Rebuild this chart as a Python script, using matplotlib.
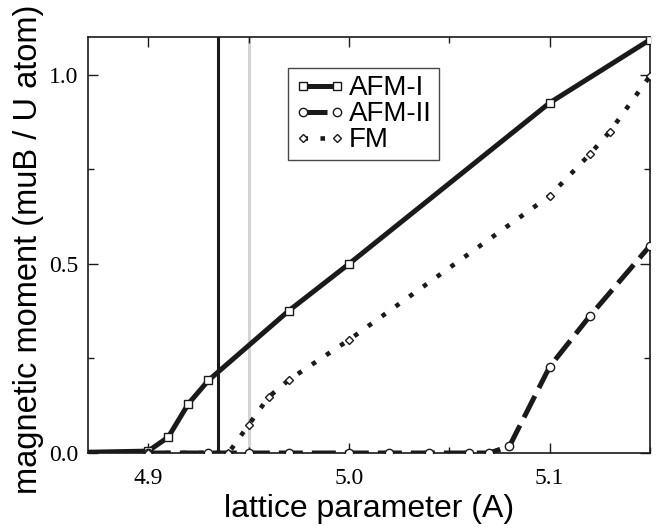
import numpy as np
import matplotlib
matplotlib.use("Agg")
import matplotlib.pyplot as plt
from matplotlib.ticker import MultipleLocator

# magnetic moment vs lattice parameter for three magnetic orderings
afm1_a = [4.85, 4.90, 4.91, 4.92, 4.93, 4.97, 5.00, 5.10, 5.15]
afm1_m = [0.0, 0.005, 0.042, 0.130, 0.192, 0.376, 0.500, 0.926, 1.093]

afm2_a = [4.85, 4.90, 4.93, 4.95, 4.97, 5.00, 5.02, 5.04, 5.06, 5.07, 5.08, 5.10, 5.12, 5.15]
afm2_m = [0.0, 0.0, 0.0, 0.0, 0.0, 0.0, 0.0, 0.0, 0.0, 0.0, 0.018, 0.228, 0.362, 0.548]

fm_a = [4.90, 4.94, 4.95, 4.96, 4.97, 5.00, 5.10, 5.12, 5.13, 5.15]
fm_m = [0.0, 0.0, 0.074, 0.148, 0.193, 0.299, 0.680, 0.790, 0.850, 0.997]

# reference lattice parameters
a_exp = 4.935
a_calc = 4.95

serif = "Liberation Serif"
sans = "Liberation Sans"
plt.rcParams["font.family"] = serif

fig = plt.figure(figsize=(6.68, 5.30), dpi=100)
ax = fig.add_axes([0.1317, 0.1453, 0.8413, 0.7847])

ax.axvline(a_exp, color="#1a1a1a", lw=2.2, zorder=1)
ax.axvline(a_calc, color="#d4d4d4", lw=2.2, zorder=1)

lw = 3.6
ax.plot(afm1_a, afm1_m, color="#1a1a1a", lw=lw, marker="s", ms=5.5,
        mfc="white", mec="#1a1a1a", mew=1.0, label="AFM-I", zorder=3)
l2, = ax.plot(afm2_a, afm2_m, color="#1a1a1a", lw=lw, marker="o", ms=6,
              mfc="white", mec="#1a1a1a", mew=1.0, label="AFM-II", zorder=3)
l2.set_dashes((4.8, 1.8))
l2.set_dash_capstyle("butt")
l3, = ax.plot(fm_a, fm_m, color="#1a1a1a", lw=3.3, marker="D", ms=4.5,
              mfc="white", mec="#1a1a1a", mew=1.0, label="FM", zorder=3)
l3.set_dashes((1.0, 2.7))
l3.set_dash_capstyle("butt")

ax.set_xlim(4.87, 5.15)
ax.set_ylim(0.0, 1.1)
ax.xaxis.set_major_locator(MultipleLocator(0.1))
ax.xaxis.set_minor_locator(MultipleLocator(0.05))
ax.yaxis.set_major_locator(MultipleLocator(0.5))
ax.yaxis.set_minor_locator(MultipleLocator(0.25))
ax.xaxis.set_major_formatter(plt.FormatStrFormatter("%.1f"))
ax.yaxis.set_major_formatter(plt.FormatStrFormatter("%.1f"))
ax.tick_params(which="both", direction="in", top=True, right=True, width=1.0,
               color="#1a1a1a", labelsize=17)
ax.tick_params(which="major", length=7)
ax.tick_params(which="minor", length=4)
ax.tick_params(axis="x", which="major", pad=11)
ax.tick_params(axis="y", which="major", pad=7)
for s in ax.spines.values():
    s.set_linewidth(1.2)
    s.set_color("#1a1a1a")

ax.set_xlabel("lattice parameter (A)", fontfamily=sans, fontsize=23)
ax.set_ylabel("magnetic moment (muB / U atom)", fontfamily=sans, fontsize=23.5)
ax.xaxis.set_label_coords(0.5, -0.098)
ax.yaxis.set_label_coords(-0.078, 0.49)

leg = ax.legend(loc="upper left", bbox_to_anchor=(0.356, 0.925), borderaxespad=0,
                numpoints=2, handlelength=1.8, handletextpad=0.15,
                labelspacing=0.0, borderpad=0.25, fancybox=False,
                prop={"family": sans, "size": 20})
leg.get_frame().set_edgecolor("#1a1a1a")
leg.get_frame().set_linewidth(1.0)

fig.savefig("out.png", dpi=100)
